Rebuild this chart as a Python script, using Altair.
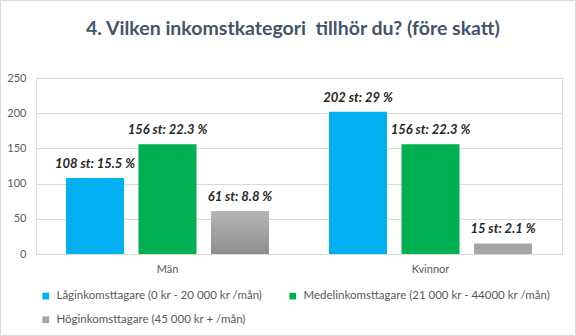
import altair as alt
import pandas as pd

categories = ["Män", "Kvinnor"]
series = [
    "Låginkomsttagare (0 kr - 20 000 kr /mån)",
    "Medelinkomsttagare (21 000 kr - 44000 kr /mån)",
    "Höginkomsttagare (45 000 kr + /mån)",
]
men_counts = [108, 156, 61]
women_counts = [202, 156, 15]
men_pct = ["15.5", "22.3", "8.8"]
women_pct = ["29", "22.3", "2.1"]
colors = ["#00B0F0", "#00B050", "#A5A5A5"]
title_text = "4. Vilken inkomstkategori\u00a0 tillhör du? (före skatt)"

rows = []
for cat, counts, pcts in [("Män", men_counts, men_pct), ("Kvinnor", women_counts, women_pct)]:
    for s, c, p in zip(series, counts, pcts):
        rows.append({"kategori": cat, "grupp": s, "antal": c, "etikett": f"{c} st: {p} %"})
df = pd.DataFrame(rows)

W, H = 526, 176
FONT = "Lato"

x = alt.X(
    "kategori:N", sort=categories,
    scale=alt.Scale(paddingInner=0, paddingOuter=0),
    axis=alt.Axis(title=None, labelAngle=0, ticks=False, domainColor="#D9D9D9",
                  labelPadding=9, labelColor="#595959", labelFontSize=11, labelFont=FONT),
)
xo = alt.XOffset("grupp:N", sort=series,
                 scale=alt.Scale(paddingInner=0.2, paddingOuter=0.414))
y = alt.Y(
    "antal:Q", scale=alt.Scale(domain=[0, 250]),
    axis=alt.Axis(title=None, values=[0, 50, 100, 150, 200, 250], domain=False, ticks=False,
                  gridColor="#D9D9D9", labelPadding=10, labelColor="#595959",
                  labelFontSize=11, labelFont=FONT),
)

base = alt.Chart(df).encode(x=x, xOffset=xo, y=y)

bars = base.mark_bar().encode(
    color=alt.Color(
        "grupp:N", sort=series,
        scale=alt.Scale(domain=series, range=colors),
        legend=alt.Legend(
            title=None, orient="none", legendX=4, legendY=212, columns=2,
            direction="horizontal",
            columnPadding=24, rowPadding=11, symbolType="square", symbolSize=45,
            symbolStrokeWidth=0, labelFontSize=11.5, labelColor="#595959",
            labelFont=FONT, labelOffset=5, labelLimit=400,
        ),
    )
)

grad = base.transform_filter(
    (alt.datum.kategori == "Män") & (alt.datum.grupp == series[2])
).mark_bar(
    color=alt.Gradient(
        gradient="linear", x1=0, x2=0, y1=0, y2=1,
        stops=[alt.GradientStop(color="#B5B5B5", offset=0),
               alt.GradientStop(color="#8E8E8E", offset=1)],
    )
)

labels = base.mark_text(
    dy=-10, baseline="alphabetic", fontStyle="italic", fontWeight="bold",
    fontSize=13, color="#262626", font=FONT,
).encode(text="etikett:N")

frame = alt.Chart(df).mark_rect(fill=None, stroke="#D9D9D9", strokeWidth=1).encode(
    x=alt.value(-35.5), x2=alt.value(W + 13.5), y=alt.value(-77.5), y2=alt.value(H + 81.5)
)

chart = alt.layer(frame, bars, grad, labels).properties(
    width=W, height=H,
    title=alt.TitleParams(title_text, fontSize=19.5, fontWeight="bold", color="#44546A",
                          font=FONT, anchor="middle", offset=-54, dx=-6,
                          baseline="alphabetic"),
    autosize=alt.AutoSizeParams(type="none"),
    padding={"left": 36, "top": 78, "right": 14, "bottom": 82},
).configure_view(stroke=None).configure(background="white")

chart.save("out.html", embed_options={"renderer": "svg", "actions": False})
